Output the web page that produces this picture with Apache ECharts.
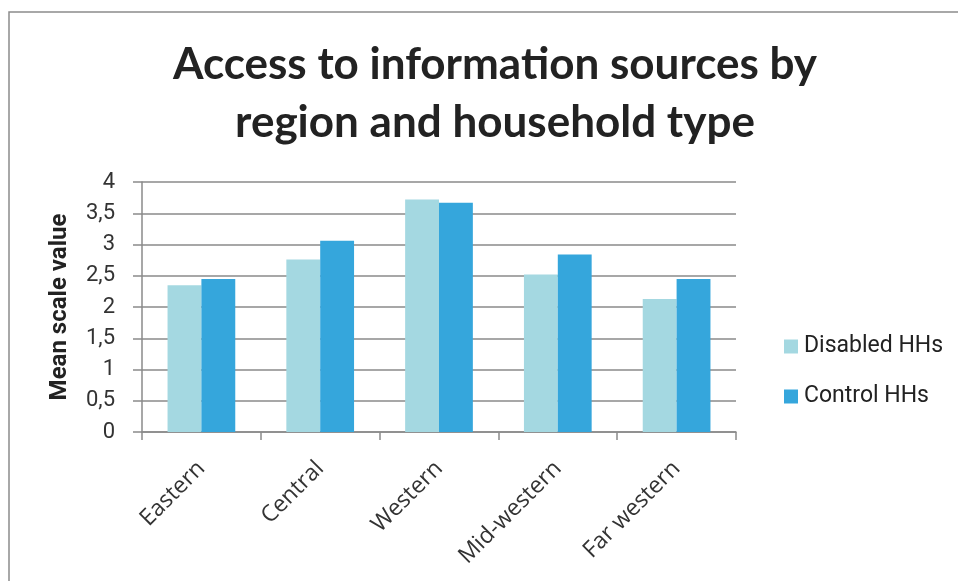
<!DOCTYPE html>
<html>
<head>
<meta charset="utf-8">
<script src="https://cdn.jsdelivr.net/npm/echarts@6/dist/echarts.min.js"></script>
<style>
  html, body { margin: 0; padding: 0; background: #fff; }
  #chart { width: 958px; height: 581px; }
</style>
</head>
<body>
<div id="chart"></div>
<script>
// Regions along the x axis
const regions = ['Eastern', 'Central', 'Western', 'Mid-western', 'Far western'];
// Mean scale values per household type
const disabledHHs = [2.35, 2.76, 3.72, 2.52, 2.13];
const controlHHs = [2.45, 3.06, 3.67, 2.84, 2.45];
// Value axis ticks
const yTicks = [0, 0.5, 1, 1.5, 2, 2.5, 3, 3.5, 4];

const chart = echarts.init(document.getElementById('chart'));
const labelFont = 'Roboto, "Liberation Sans", sans-serif';

chart.setOption({
  backgroundColor: '#ffffff',
  animation: false,
  title: {
    text: 'Access to information sources by\nregion and household type',
    left: 490,
    top: 31,
    textAlign: 'center',
    textStyle: {
      fontFamily: 'Lato, "Open Sans", sans-serif',
      fontWeight: 'bold',
      fontSize: 44,
      lineHeight: 58,
      color: '#222222'
    }
  },
  graphic: [{
    type: 'rect',
    shape: { x: 9, y: 12, width: 1000, height: 700 },
    style: { fill: 'none', stroke: '#8c8c8c', lineWidth: 1.5 },
    silent: true
  }],
  legend: {
    orient: 'vertical',
    left: 779,
    top: 330,
    itemWidth: 14,
    itemHeight: 14,
    itemGap: 27,
    icon: 'rect',
    textStyle: {
      fontFamily: labelFont,
      fontSize: 23,
      color: '#222222',
      padding: [0, 0, 0, 1]
    },
    data: ['Disabled HHs', 'Control HHs']
  },
  grid: { left: 142, right: 222, top: 182, bottom: 149 },
  xAxis: {
    type: 'category',
    data: regions,
    axisLine: { lineStyle: { color: '#8a8a8a', width: 1.5 } },
    axisTick: { show: true, length: 8, lineStyle: { color: '#8a8a8a', width: 1.5 } },
    axisLabel: {
      rotate: 45,
      margin: 33,
      fontFamily: '"Open Sans", sans-serif',
      fontSize: 23,
      color: '#333333'
    }
  },
  yAxis: {
    type: 'value',
    min: 0,
    max: 4,
    interval: 0.5,
    name: 'Mean scale value',
    nameLocation: 'middle',
    nameGap: 70,
    nameTextStyle: {
      fontFamily: labelFont,
      fontSize: 24,
      fontWeight: 'bold',
      color: '#222222'
    },
    axisLine: { show: true, lineStyle: { color: '#8a8a8a', width: 1.5 } },
    axisTick: { show: true, length: 9, lineStyle: { color: '#8a8a8a', width: 1.5 } },
    splitLine: { lineStyle: { color: '#8a8a8a', width: 1.5 } },
    axisLabel: {
      margin: 27,
      fontFamily: labelFont,
      fontSize: 22,
      color: '#333333',
      formatter: function (v) {
        return yTicks.includes(v) ? String(v).replace('.', ',') : '';
      }
    }
  },
  series: [
    {
      name: 'Disabled HHs',
      type: 'bar',
      data: disabledHHs,
      barGap: '0%',
      barCategoryGap: '43%',
      itemStyle: { color: '#a4d8e1' }
    },
    {
      name: 'Control HHs',
      type: 'bar',
      data: controlHHs,
      barGap: '0%',
      barCategoryGap: '43%',
      itemStyle: { color: '#35a6dc' }
    }
  ]
});
</script>
</body>
</html>
